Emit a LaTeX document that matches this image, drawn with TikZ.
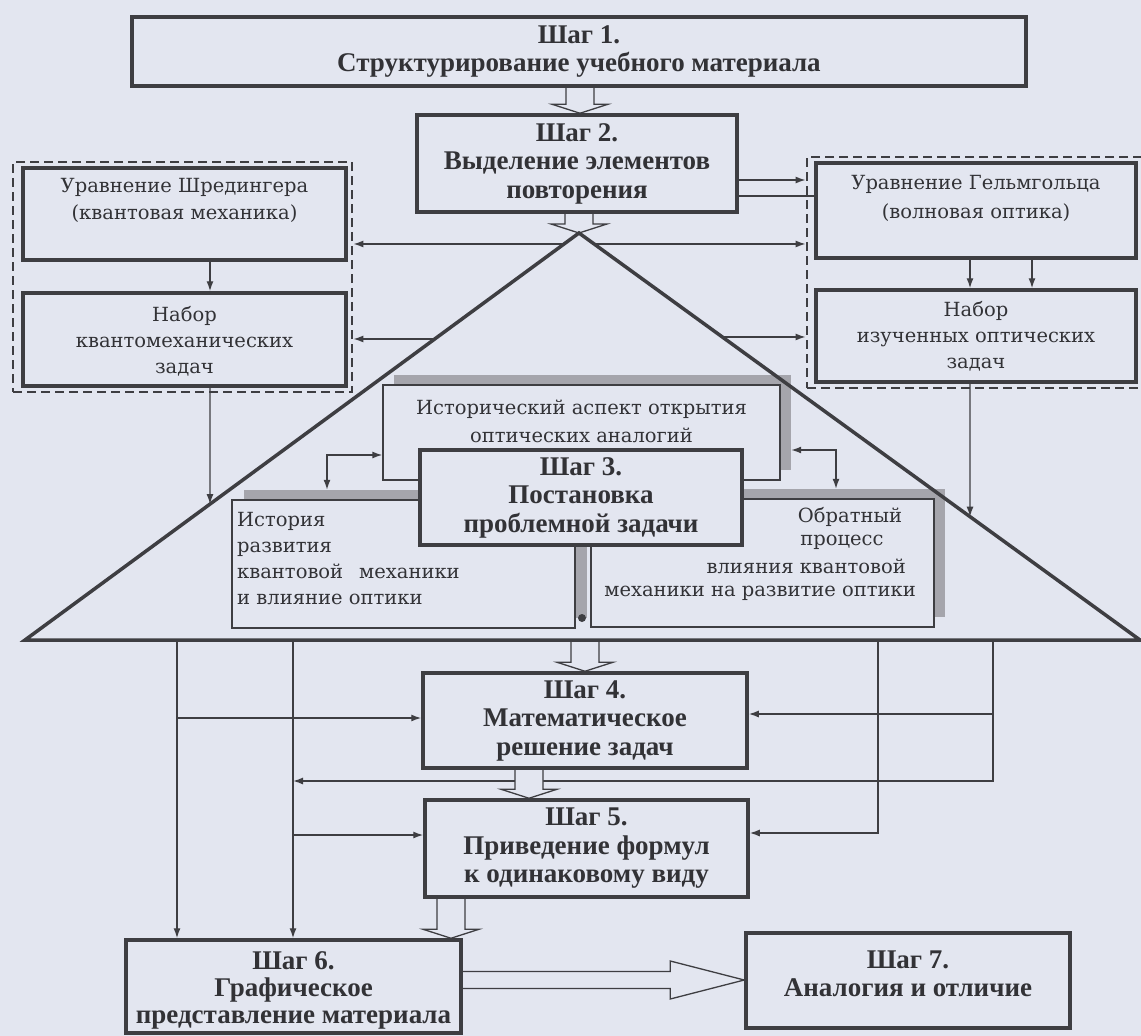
\documentclass[tikz,border=0pt]{standalone}
\usepackage{fontspec}
\setmainfont{Liberation Serif}
\newfontfamily\regf{DejaVu Serif}
\usetikzlibrary{arrows.meta,calc}
\pgfdeclarelayer{back}
\pgfdeclarelayer{mid}
\pgfsetlayers{back,mid,main}
\definecolor{bgc}{RGB}{227,230,240}
\definecolor{linec}{RGB}{62,62,66}
\definecolor{textc}{RGB}{50,50,54}
\definecolor{shadc}{RGB}{165,165,172}
\newcommand\hollowv[2]{\draw[hollow] let \p1=(#1), \p2=(#2) in (\x1-14pt,\y1) -- (\x1-14pt,\y2+9pt) -- (\x1-28pt,\y2+9pt) -- (\x1,\y2) -- (\x1+28pt,\y2+9pt) -- (\x1+14pt,\y2+9pt) -- (\x1+14pt,\y1);}
\newcommand\hollowh[2]{\draw[hollow] let \p1=(#1), \p2=(#2) in (\x1,\y1+8.5pt) -- (\x2-74pt,\y1+8.5pt) -- (\x2-74pt,\y1+19pt) -- (\x2,\y1) -- (\x2-74pt,\y1-19pt) -- (\x2-74pt,\y1-8.5pt) -- (\x1,\y1-8.5pt);}
\begin{document}
\begin{tikzpicture}[x=1pt,y=-1pt,
 stepbox/.style={draw=linec, line width=3.5pt, fill=bgc, inner sep=0pt, align=center, text=textc, font=\bfseries\fontsize{27}{28.5}\selectfont},
 steptext/.style={inner sep=0pt, align=center, text=textc, font=\bfseries\fontsize{27}{27}\selectfont},
 eqbox/.style={draw=linec, line width=3.5pt, fill=bgc, inner sep=0pt},
 thinbox/.style={draw=linec, line width=1.3pt, fill=bgc, inner sep=0pt},
 shadowbox/.style={fill=shadc, draw=none, inner sep=0pt},
 grouprect/.style={draw=linec, line width=2.8pt, dash pattern=on 9pt off 5pt, inner sep=0pt},
 conn/.style={draw=linec, line width=1.4pt, -{Latex[length=10pt,width=7pt]}},
 conntwo/.style={draw=linec, line width=1.4pt, {Latex[length=10pt,width=7pt]}-{Latex[length=10pt,width=7pt]}},
 plainline/.style={draw=linec, line width=1.4pt},
 hollow/.style={draw=linec, line width=1.3pt, fill=bgc, line join=miter},
 regtext/.style={text=textc, font=\regf\fontsize{19.5}{27}\selectfont, inner sep=0pt, align=center},
 tri/.style={draw=linec, line width=3.5pt, line join=miter},
]
\begin{pgfonlayer}{back}
\fill[bgc] (0,0) rectangle (1141,1036);
\end{pgfonlayer}
\useasboundingbox (0,0) rectangle (1141,1036);

% dashed groups
\node[grouprect, minimum width=339pt, minimum height=230pt] (ldash) at (182.5,277) {};
\node[grouprect, minimum width=353pt, minimum height=231pt] (rdash) at (983.5,272.5) {};

% shadows
\node[shadowbox, minimum width=397pt, minimum height=95pt] (histsh) at (592.5,422.5) {};
\node[shadowbox, minimum width=343pt, minimum height=128pt] (istsh) at (415.5,554) {};
\node[shadowbox, minimum width=343pt, minimum height=128pt] (obrsh) at (773.5,553) {};

% triangle
\coordinate (apex) at (579,233);
\coordinate (tl) at (25,640);
\coordinate (tr) at (1140,640);
\draw[tri] (apex) -- (tl) -- (tr) -- cycle;

% thin boxes inside triangle
\node[thinbox, minimum width=397pt, minimum height=95pt] (hist) at (581.5,432.5) {};
\node[thinbox, minimum width=343pt, minimum height=128pt] (ist) at (403.5,564) {};
\node[thinbox, minimum width=343pt, minimum height=128pt] (obr) at (762.5,563) {};
\node[regtext, font=\regf\fontsize{19.5}{28}\selectfont] (histtext) at (581.5,421) {Исторический аспект открытия\\оптических аналогий};
\node[regtext, align=left, anchor=west, font=\regf\fontsize{19.5}{25.7}\selectfont] (isttext) at (237,558.5) {История\\развития\\квантовой\hspace{0.5em} механики\\и влияние оптики};
\node[regtext] (obra) at (850,517) {Обратный};
\node[regtext] (obrb) at (842,542) {процесс};
\node[regtext, anchor=east] (obrc) at (906,566) {влияния квантовой};
\node[regtext, anchor=east] (obrd) at (916,593) {механики на развитие оптики};
\node[circle, fill=linec, inner sep=0pt, minimum size=8pt] (dot) at (582,618) {};

% steps
\node[stepbox, minimum width=894pt, minimum height=69pt] (step1) at (579,51.5) {Шаг 1.\\Структурирование учебного материала};
\node[stepbox, minimum width=320pt, minimum height=97pt] (step2) at (577,163.5) {Шаг 2.\\Выделение элементов\\повторения};
\node[stepbox, minimum width=322pt, minimum height=95pt] (step3) at (581,497.5) {Шаг 3.\\Постановка\\проблемной задачи};
\node[stepbox, minimum width=324pt, minimum height=95pt] (step4) at (585,720.5) {Шаг 4.\\Математическое\\решение задач};
\node[stepbox, minimum width=323pt, minimum height=97pt] (step5) at (586.5,848.5) {Шаг 5.\\Приведение формул\\к одинаковому виду};
\node[stepbox, minimum width=335pt, minimum height=93pt] (step6) at (293.5,986.5) {};
\node[steptext] (step6text) at (293.5,990) {Шаг 6.\\Графическое\\представление материала};
\node[stepbox, minimum width=324pt, minimum height=95pt] (step7) at (908,980.5) {};
\node[steptext, font=\bfseries\fontsize{27}{28.5}\selectfont] (step7text) at (908,974) {Шаг 7.\\Аналогия и отличие};

% equation groups
\node[eqbox, minimum width=323pt, minimum height=92pt] (schr) at (184.5,214) {};
\node[regtext] (schrtext) at (184.5,200) {Уравнение Шредингера\\(квантовая механика)};
\node[eqbox, minimum width=323pt, minimum height=93pt] (qmn) at (184.5,339.5) {};
\node[regtext, font=\regf\fontsize{19.5}{26}\selectfont] (qmntext) at (184.5,341) {Набор\\квантомеханических\\задач};
\node[eqbox, minimum width=320pt, minimum height=95pt] (helm) at (976,210.5) {};
\node[regtext, font=\regf\fontsize{19.5}{29}\selectfont] (helmtext) at (976,198) {Уравнение Гельмгольца\\(волновая оптика)};
\node[eqbox, minimum width=320pt, minimum height=92pt] (optn) at (976,336) {};
\node[regtext, font=\regf\fontsize{19.5}{26}\selectfont] (optntext) at (976,336) {Набор\\изученных оптических\\задач};

\begin{pgfonlayer}{mid}
% top connectors
\draw[conn] (step2.east |- 0,180) -- (rdash.west |- 0,180);
\draw[plainline] (step2.east |- 0,196) -- (helm.west |- 0,196);
\coordinate (eLa) at ($(apex)!0.027!(tl)$);
\coordinate (eRa) at ($(apex)!0.027!(tr)$);
\coordinate (eLb) at ($(apex)!0.2604!(tl)$);
\coordinate (eRb) at ($(apex)!0.2555!(tr)$);
\coordinate (eLc) at ($(apex)!0.6661!(tl)$);
\coordinate (eRc) at ($(apex)!0.6970!(tr)$);
\draw[conn] (eLa) -- (eLa -| ldash.east);
\draw[conn] (eRa) -- (eRa -| rdash.west);
\draw[conn] (eLb) -- (eLb -| ldash.east);
\draw[conn] (eRb) -- (eRb -| rdash.west);
\coordinate (xa) at (210,0);
\coordinate (xb) at (970,0);
\coordinate (xc) at (1032,0);
\draw[conn] (schr.south -| xa) -- (qmn.north -| xa);
\draw[conn] (qmn.south -| xa) -- (eLc);
\draw[conn] (helm.south -| xb) -- (optn.north -| xb);
\draw[conn] (helm.south -| xc) -- (optn.north -| xc);
\draw[conn] (optn.south -| xb) -- (eRc);
% elbows around historical box
\coordinate (cl) at (327,455);
\draw[conntwo] (hist.west |- cl) -- (cl) -- (cl |- istsh.north);
\coordinate (cr) at (836,450);
\draw[conntwo] (histsh.east |- cr) -- (cr) -- (cr |- obrsh.north);
% lower connectors
\coordinate (la) at (177,0);
\coordinate (lb) at (293,0);
\coordinate (ra) at (878,0);
\coordinate (rb) at (993,0);
\draw[conn] (la |- tl) -- (la |- step6.north);
\draw[conn] (la |- 0,718) -- (step4.west |- 0,718);
\draw[conn] (lb |- tl) -- (lb |- step6.north);
\draw[conn] (lb |- 0,835) -- (step5.west |- 0,835);
\draw[conn] (ra |- tl) -- (ra |- 0,833) -- (step5.east |- 0,833);
\draw[conn] (rb |- tl) -- (rb |- 0,781) -- (lb |- 0,781);
\draw[conn] (rb |- 0,714) -- (step4.east |- 0,714);
% hollow arrows
\coordinate (hxa) at (580,0);
\coordinate (hxb) at (579,0);
\coordinate (hxc) at (585,0);
\coordinate (hxd) at (529,0);
\coordinate (hxe) at (451,0);
\coordinate (hy) at (0,980);
\hollowv{step1.south -| hxa}{step2.north -| hxa}
\hollowv{step2.south -| hxb}{apex}
\hollowv{tl -| hxc}{step4.north -| hxc}
\hollowv{step4.south -| hxd}{step5.north -| hxd}
\hollowv{step5.south -| hxe}{step6.north -| hxe}
\hollowh{step6.east |- hy}{step7.west |- hy}
\end{pgfonlayer}
\end{tikzpicture}
\end{document}
